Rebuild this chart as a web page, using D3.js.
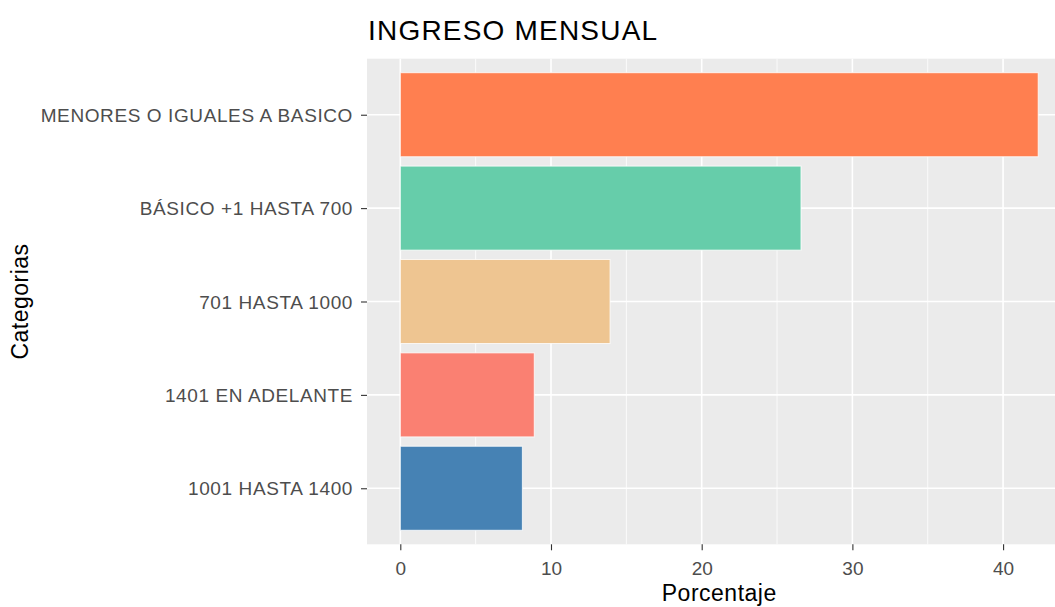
<!DOCTYPE html>
<html>
<head>
<meta charset="utf-8">
<script src="https://cdn.jsdelivr.net/npm/d3@7"></script>
<style>
  body { margin: 0; background: #fff; }
  svg { display: block; overflow: hidden; }
  text { font-family: "Liberation Sans", Arial, sans-serif; }
</style>
</head>
<body>
<div class="chart"></div>
<script>
  // data, top to bottom
  var categorias = ['MENORES O IGUALES A BASICO', 'BÁSICO +1 HASTA 700', '701 HASTA 1000', '1401 EN ADELANTE', '1001 HASTA 1400'];
  var porcentajes = [42.33, 26.59, 13.92, 8.89, 8.10];
  var colores = ['#FF7F50', '#66CDAA', '#EEC591', '#FA8072', '#4682B4'];
  var xTicks = [0, 10, 20, 30, 40];
  var xMinor = [5, 15, 25, 35];

  var width = 1055, height = 607;
  var panel = { left: 367, top: 58.7, right: 1071.5, bottom: 544.3 };

  var svg = d3.select('.chart').append('svg')
      .attr('width', width)
      .attr('height', height);

  var x = d3.scaleLinear()
      .domain([-2.21, 44.54])
      .range([panel.left, panel.right]);

  var y = d3.scalePoint()
      .domain(categorias)
      .range([panel.top, panel.bottom])
      .padding(0.6);

  var barH = y.step() * 0.9;

  // panel background
  svg.append('rect')
      .attr('x', panel.left)
      .attr('y', panel.top)
      .attr('width', panel.right - panel.left)
      .attr('height', panel.bottom - panel.top)
      .style('fill', '#EBEBEB');

  var grid = svg.append('g').attr('class', 'grid');

  grid.selectAll('.minor')
      .data(xMinor)
      .enter().append('line')
      .attr('x1', function(d){ return x(d); })
      .attr('x2', function(d){ return x(d); })
      .attr('y1', panel.top)
      .attr('y2', panel.bottom)
      .style('stroke', '#fff')
      .style('stroke-width', 0.8);

  grid.selectAll('.major-x')
      .data(xTicks)
      .enter().append('line')
      .attr('x1', function(d){ return x(d); })
      .attr('x2', function(d){ return x(d); })
      .attr('y1', panel.top)
      .attr('y2', panel.bottom)
      .style('stroke', '#fff')
      .style('stroke-width', 1.6);

  grid.selectAll('.major-y')
      .data(categorias)
      .enter().append('line')
      .attr('x1', panel.left)
      .attr('x2', panel.right)
      .attr('y1', function(d){ return y(d); })
      .attr('y2', function(d){ return y(d); })
      .style('stroke', '#fff')
      .style('stroke-width', 1.6);

  // bars
  svg.append('g').selectAll('rect')
      .data(categorias)
      .enter().append('rect')
      .attr('x', x(0))
      .attr('y', function(d){ return y(d) - barH / 2; })
      .attr('width', function(d, i){ return x(porcentajes[i]) - x(0); })
      .attr('height', barH)
      .style('fill', function(d, i){ return colores[i]; })
      .style('stroke', '#fff')
      .style('stroke-opacity', 0.8)
      .style('stroke-width', 1);

  // x axis
  var xAxis = svg.append('g')
      .attr('transform', 'translate(0,' + panel.bottom + ')')
      .call(d3.axisBottom(x).tickValues(xTicks).tickSize(6).tickPadding(4).tickFormat(d3.format('d')));
  xAxis.select('.domain').remove();
  xAxis.selectAll('line').style('stroke', '#333').style('stroke-width', 1.1);
  xAxis.selectAll('text')
      .style('font-size', '19px')
      .style('fill', '#4D4D4D')
      .attr('y', 31)
      .attr('dy', null);

  // y axis
  var yAxis = svg.append('g')
      .attr('transform', 'translate(' + panel.left + ',0)')
      .call(d3.axisLeft(y).tickSize(6).tickPadding(8));
  yAxis.select('.domain').remove();
  yAxis.selectAll('line').style('stroke', '#333').style('stroke-width', 1.1);
  yAxis.selectAll('text')
      .style('font-size', '19px')
      .style('letter-spacing', '0.6px')
      .style('fill', '#4D4D4D')
      .attr('dy', '0.35em');

  // titles
  svg.append('text')
      .attr('x', 368)
      .attr('y', 39.5)
      .style('font-size', '28px')
      .style('letter-spacing', '1.2px')
      .style('fill', '#000')
      .text('INGRESO MENSUAL');

  svg.append('text')
      .attr('x', (panel.left + panel.right) / 2)
      .attr('y', 601)
      .attr('text-anchor', 'middle')
      .style('font-size', '23px')
      .style('letter-spacing', '0.5px')
      .style('fill', '#000')
      .text('Porcentaje');

  svg.append('text')
      .attr('transform', 'translate(28,' + (panel.top + panel.bottom) / 2 + ') rotate(-90)')
      .attr('text-anchor', 'middle')
      .style('font-size', '23px')
      .style('letter-spacing', '0.5px')
      .style('fill', '#000')
      .text('Categorias');
</script>
</body>
</html>
